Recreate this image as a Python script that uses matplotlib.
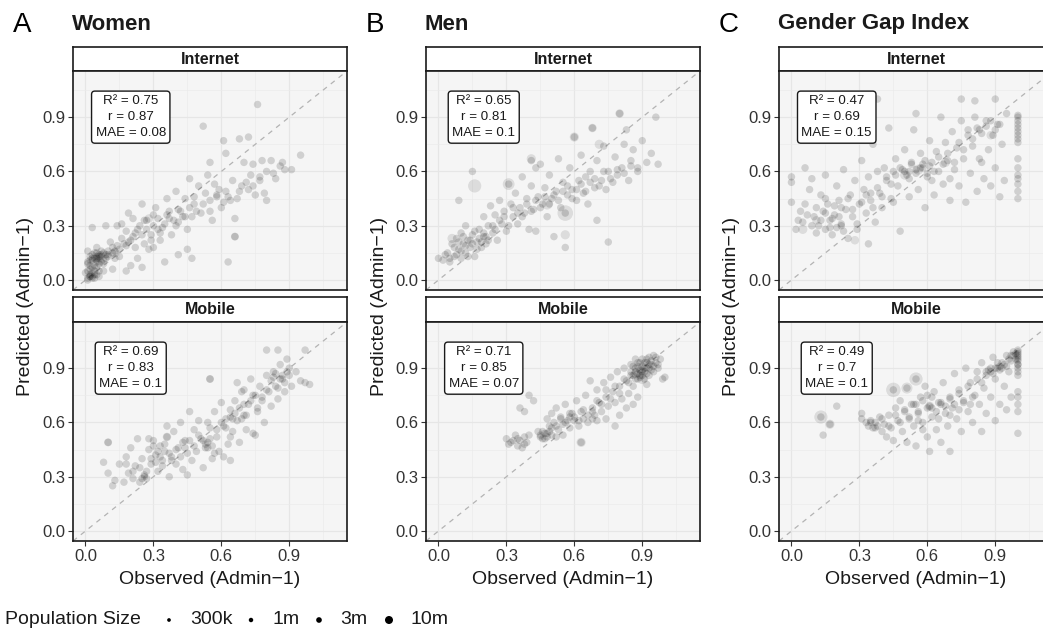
import matplotlib
matplotlib.use("Agg")
import matplotlib.pyplot as plt
import numpy as np

plt.rcParams['font.family'] = ['Liberation Sans', 'DejaVu Sans']

# ---- data ----
col_titles = ["Women", "Men", "Gender Gap Index"]
col_letters = ["A", "B", "C"]
row_titles = ["Internet", "Mobile"]
ticks = [0.0, 0.3, 0.6, 0.9]

stats_text = [
    ["R\u00b2 = 0.75\nr = 0.87\nMAE = 0.08", "R\u00b2 = 0.69\nr = 0.83\nMAE = 0.1"],
    ["R\u00b2 = 0.65\nr = 0.81\nMAE = 0.1", "R\u00b2 = 0.71\nr = 0.85\nMAE = 0.07"],
    ["R\u00b2 = 0.47\nr = 0.69\nMAE = 0.15", "R\u00b2 = 0.49\nr = 0.7\nMAE = 0.1"],
]

# women / internet
wi_x = [0.01,0.02,0.03,0.02,0.04,0.05,0.01,0.03,0.05,0.06,0.02,0.04,0.07,0.08,0.01,0.06,0.03,0.09,0.10,0.12,0.06,0.08,0.00,0.05,0.11,0.14,0.13,
        0.03,0.09,0.14,0.16,0.18,0.19,0.21,0.22,0.24,0.25,0.26,0.27,0.29,0.30,0.31,0.32,0.33,0.35,0.36,0.37,0.38,0.40,0.41,0.42,0.44,0.45,
        0.46,0.47,0.48,0.50,0.51,0.53,0.54,0.55,0.56,0.58,0.60,0.62,0.64,0.65,0.66,0.67,0.69,0.70,0.72,0.73,0.75,0.77,0.78,0.79,0.80,0.82,
        0.84,0.86,0.88,0.91,0.76,0.52,0.95,0.61,0.68,0.72,0.63,0.47,0.45,0.66,0.41,0.28,0.20,0.23,0.18,0.12,0.35,0.55,0.62,0.74,0.80,0.25,0.30]
wi_y = [0.01,0.03,0.02,0.06,0.05,0.03,0.09,0.11,0.12,0.14,0.13,0.15,0.13,0.15,0.16,0.09,0.07,0.12,0.16,0.15,0.02,0.05,0.04,0.18,0.21,0.19,0.12,
        0.29,0.30,0.30,0.23,0.27,0.37,0.34,0.26,0.30,0.42,0.20,0.33,0.25,0.36,0.40,0.28,0.22,0.31,0.45,0.34,0.25,0.49,0.32,0.38,0.45,0.28,
        0.56,0.35,0.42,0.52,0.37,0.48,0.58,0.38,0.33,0.46,0.40,0.49,0.44,0.55,0.34,0.45,0.52,0.65,0.50,0.58,0.47,0.55,0.66,0.48,0.60,0.66,
        0.56,0.63,0.61,0.61,0.97,0.85,0.69,0.77,0.78,0.79,0.10,0.12,0.17,0.24,0.14,0.17,0.08,0.12,0.05,0.06,0.10,0.65,0.70,0.64,0.44,0.07,0.18]
wi_x2 = [0.01,0.02,0.03,0.04,0.05,0.06,0.07,0.02,0.03,0.04,0.05,0.06,0.08,0.09,0.01,0.03,0.05,0.07,
         0.10,0.12,0.15,0.17,0.20,0.22,0.25,0.27,0.30,0.32,0.34,0.36,0.39,0.41,0.43,0.46,0.49,0.52,0.55,0.58,0.61,0.63,0.68,0.71,0.74,0.77,0.83,0.87,
         0.16,0.19,0.23,0.26,0.29,0.33,0.37,0.40,0.44,0.48,0.57,0.59,
         0.02,0.04,0.06,0.03,0.05,0.07,0.01,0.04,0.02,0.05,0.08,0.10,0.13,0.15,0.18,0.21]
wi_y2 = [0.00,0.02,0.04,0.08,0.10,0.12,0.10,0.11,0.14,0.12,0.15,0.13,0.11,0.14,0.05,0.01,0.07,0.16,
         0.13,0.18,0.17,0.20,0.22,0.18,0.25,0.28,0.30,0.34,0.29,0.36,0.33,0.39,0.35,0.40,0.38,0.42,0.44,0.47,0.43,0.46,0.49,0.54,0.52,0.57,0.59,0.65,
         0.31,0.21,0.28,0.33,0.22,0.26,0.38,0.30,0.35,0.46,0.53,0.50,
         0.02,0.03,0.05,0.12,0.11,0.14,0.10,0.01,0.08,0.13,0.09,0.14,0.16,0.13,0.19,0.24]
wi_bx = [0.13, 0.28, 0.66]
wi_by = [0.15, 0.34, 0.24]
wi_bpop = [15, 12, 10]

# women / mobile
wm_x = [0.08,0.10,0.10,0.12,0.13,0.15,0.17,0.18,0.19,0.20,0.21,0.22,0.23,0.24,0.25,0.26,0.27,0.28,0.29,0.30,0.31,0.32,0.33,0.34,0.35,
        0.36,0.37,0.38,0.39,0.40,0.41,0.42,0.43,0.44,0.45,0.46,0.47,0.48,0.49,0.50,0.51,0.52,0.53,0.54,0.55,0.55,0.56,0.57,0.58,0.59,
        0.60,0.61,0.62,0.63,0.64,0.65,0.66,0.67,0.68,0.69,0.70,0.71,0.72,0.73,0.74,0.75,0.76,0.77,0.78,0.79,0.80,0.81,0.82,0.83,0.84,
        0.85,0.86,0.87,0.88,0.89,0.90,0.91,0.93,0.95,0.97,0.99,0.80,0.85,0.97,0.67,0.70,0.64,0.61,0.54,0.45,0.36,0.28]
wm_y = [0.38,0.49,0.32,0.25,0.28,0.37,0.27,0.41,0.32,0.46,0.29,0.36,0.51,0.27,0.40,0.31,0.29,0.45,0.37,0.50,0.42,0.33,0.47,0.39,0.44,
        0.52,0.30,0.41,0.55,0.37,0.46,0.60,0.34,0.50,0.43,0.66,0.39,0.56,0.44,0.61,0.51,0.35,0.48,0.46,0.84,0.57,0.40,0.66,0.52,0.44,
        0.71,0.58,0.62,0.48,0.67,0.55,0.72,0.61,0.49,0.77,0.64,0.56,0.70,0.84,0.75,0.53,0.66,0.80,0.72,0.60,0.86,0.77,0.69,0.88,0.80,
        0.73,0.92,0.84,0.77,0.95,0.86,0.80,0.88,0.83,0.82,0.81,1.00,1.00,1.00,0.82,0.78,0.39,0.41,0.60,0.31,0.58,0.51]
wm_x2 = [0.18,0.21,0.24,0.26,0.27,0.29,0.31,0.32,0.33,0.34,0.35,0.37,0.38,0.40,0.42,0.44,0.46,0.48,0.50,0.52,
         0.53,0.54,0.55,0.56,0.58,0.60,0.62,0.64,0.65,0.66,0.68,0.69,0.70,0.71,0.73,0.75,0.76,0.78,0.80,0.82,
         0.83,0.84,0.85,0.86,0.87,0.88,0.89,0.90,0.74,0.64,0.57,0.43,0.30,0.25]
wm_y2 = [0.37,0.33,0.35,0.30,0.33,0.40,0.38,0.44,0.41,0.36,0.48,0.43,0.39,0.45,0.41,0.46,0.50,0.47,0.53,0.50,
         0.46,0.49,0.51,0.47,0.56,0.60,0.57,0.63,0.62,0.65,0.68,0.62,0.70,0.64,0.72,0.75,0.68,0.74,0.78,0.83,
         0.85,0.87,0.79,0.84,0.86,0.82,0.88,0.90,0.54,0.52,0.43,0.49,0.47,0.29]
wm_bx = [0.10, 0.55, 0.36]
wm_by = [0.49, 0.84, 0.52]
wm_bpop = [10, 10, 12]

# men / internet
mi_x = [0.00,0.02,0.04,0.05,0.06,0.07,0.08,0.09,0.10,0.10,0.11,0.12,0.12,0.13,0.14,0.15,0.16,0.17,0.18,0.19,0.20,0.20,0.21,0.22,0.23,
        0.24,0.25,0.26,0.27,0.28,0.29,0.30,0.31,0.32,0.33,0.34,0.35,0.36,0.37,0.38,0.39,0.40,0.41,0.42,0.43,0.44,0.45,0.46,0.47,0.48,
        0.49,0.50,0.51,0.52,0.53,0.54,0.55,0.56,0.57,0.58,0.59,0.60,0.61,0.62,0.63,0.64,0.65,0.66,0.67,0.68,0.69,0.70,0.70,0.72,0.73,
        0.74,0.75,0.75,0.77,0.78,0.79,0.80,0.81,0.82,0.83,0.84,0.85,0.86,0.88,0.90,0.92,0.94,0.96,0.97,0.56,0.15,0.09,0.41,0.43]
mi_y = [0.12,0.11,0.15,0.10,0.20,0.13,0.23,0.17,0.12,0.26,0.20,0.15,0.30,0.22,0.18,0.25,0.13,0.21,0.28,0.18,0.24,0.35,0.20,0.30,0.41,
        0.26,0.36,0.22,0.44,0.31,0.38,0.27,0.53,0.42,0.35,0.48,0.31,0.40,0.57,0.37,0.45,0.28,0.52,0.39,0.27,0.46,0.64,0.42,0.51,0.35,
        0.58,0.45,0.24,0.49,0.67,0.40,0.54,0.37,0.47,0.62,0.50,0.79,0.44,0.55,0.69,0.48,0.57,0.42,0.60,0.84,0.51,0.33,0.66,0.55,0.74,
        0.50,0.21,0.60,0.54,0.68,0.58,0.92,0.62,0.75,0.83,0.55,0.66,0.72,0.62,0.77,0.65,0.70,0.90,0.64,0.18,0.60,0.44,0.66,0.62]
mi_x2 = [0.03,0.05,0.07,0.08,0.09,0.10,0.11,0.12,0.13,0.14,0.15,0.16,0.17,0.18,0.19,0.20,0.21,0.22,
         0.24,0.25,0.27,0.29,0.31,0.33,0.35,0.37,0.39,0.41,0.43,0.45,0.47,0.49,0.51,0.53,0.55,0.57,0.59,0.61,
         0.63,0.65,0.67,0.69,0.71,0.73,0.76,0.79,0.82,0.85,0.88]
mi_y2 = [0.14,0.12,0.18,0.14,0.21,0.16,0.24,0.19,0.13,0.22,0.20,0.27,0.17,0.23,0.21,0.26,0.24,0.22,
         0.30,0.28,0.33,0.35,0.30,0.40,0.37,0.35,0.42,0.38,0.44,0.40,0.46,0.42,0.47,0.44,0.49,0.52,0.45,0.50,
         0.53,0.49,0.54,0.56,0.52,0.60,0.56,0.61,0.59,0.63,0.60]
mi_bx = [0.16, 0.31, 0.56, 0.41, 0.56, 0.71, 0.06, 0.80, 0.68, 0.60, 0.48]
mi_by = [0.52, 0.53, 0.37, 0.67, 0.25, 0.75, 0.23, 0.92, 0.84, 0.79, 0.42]
mi_bpop = [40, 30, 60, 15, 15, 15, 15, 12, 12, 15, 25]

# men / mobile
mm_x = [0.30,0.31,0.33,0.34,0.35,0.36,0.37,0.38,0.39,0.40,0.36,0.40,0.42,0.38,0.45,0.46,0.47,0.48,0.48,0.49,0.50,0.50,0.51,0.52,0.53,
        0.54,0.55,0.56,0.57,0.58,0.59,0.60,0.61,0.62,0.63,0.63,0.64,0.65,0.66,0.67,0.68,0.69,0.70,0.71,0.72,0.73,0.74,0.75,0.76,0.77,
        0.78,0.78,0.79,0.80,0.81,0.82,0.83,0.84,0.85,0.85,0.86,0.87,0.87,0.88,0.88,0.89,0.89,0.90,0.90,0.91,0.91,0.92,0.92,0.93,0.93,
        0.94,0.95,0.95,0.96,0.97,0.98,0.99,1.00,0.86,0.83,0.80,0.74,0.70,0.88,0.92,0.58,0.55,0.52,0.44,0.68]
mm_y = [0.51,0.48,0.50,0.53,0.47,0.50,0.46,0.52,0.49,0.53,0.68,0.75,0.72,0.66,0.52,0.55,0.51,0.54,0.62,0.58,0.65,0.53,0.60,0.68,0.56,
        0.63,0.59,0.70,0.61,0.57,0.65,0.61,0.72,0.58,0.49,0.66,0.62,0.75,0.60,0.83,0.68,0.64,0.78,0.71,0.66,0.82,0.74,0.69,0.85,0.77,
        0.58,0.71,0.88,0.80,0.73,0.90,0.83,0.76,0.92,0.86,0.80,0.95,0.88,0.84,0.91,0.86,0.93,0.88,0.95,0.90,0.84,0.93,0.87,0.96,0.90,
        0.92,0.88,0.97,0.93,0.90,0.95,0.84,0.85,0.70,0.68,0.64,0.62,0.61,0.74,0.81,0.63,0.53,0.52,0.55,0.62]
mm_x2 = [0.32,0.35,0.38,0.45,0.46,0.47,0.48,0.49,0.50,0.52,0.54,0.56,0.58,0.60,0.62,0.64,0.66,0.68,0.70,0.72,
         0.74,0.76,0.78,0.80,0.82,0.84,0.85,0.86,0.86,0.87,0.88,0.88,0.89,0.89,0.90,0.90,0.91,0.91,0.92,0.92,
         0.93,0.94,0.94,0.95,0.96,0.97,0.87,0.90,0.93]
mm_y2 = [0.49,0.51,0.48,0.53,0.51,0.54,0.52,0.55,0.57,0.58,0.62,0.60,0.65,0.63,0.61,0.67,0.64,0.66,0.72,0.70,
         0.78,0.73,0.80,0.76,0.84,0.82,0.88,0.86,0.91,0.90,0.87,0.93,0.89,0.85,0.91,0.86,0.93,0.88,0.90,0.95,
         0.92,0.89,0.94,0.91,0.96,0.92,0.84,0.89,0.86]
mm_bx = [0.63, 0.87, 0.90]
mm_by = [0.49, 0.87, 0.84]
mm_bpop = [15, 15, 20]

# gender gap index / internet
gi_x = [0.00,0.00,0.00,0.02,0.03,0.04,0.05,0.06,0.06,0.08,0.09,0.10,0.11,0.12,0.13,0.14,0.15,0.15,0.16,0.17,0.18,0.19,0.20,0.20,0.21,
        0.22,0.23,0.24,0.25,0.26,0.27,0.28,0.29,0.30,0.31,0.32,0.33,0.34,0.34,0.35,0.36,0.37,0.38,0.39,0.40,0.41,0.42,0.43,0.44,0.45,
        0.46,0.47,0.48,0.49,0.50,0.51,0.52,0.53,0.54,0.55,0.56,0.57,0.58,0.59,0.60,0.61,0.62,0.63,0.64,0.65,0.66,0.67,0.68,0.69,0.70,
        0.71,0.72,0.73,0.74,0.75,0.76,0.77,0.78,0.79,0.80,0.81,0.82,0.83,0.84,0.85,0.86,0.87,0.88,0.89,0.90,0.91,0.92,0.93,0.94,0.95,
        1.00,1.00,1.00,1.00,1.00,1.00,1.00,1.00,1.00,1.00,1.00,1.00,1.00,1.00,1.00,1.00,0.38,0.75,0.81,0.90,0.55,0.52,0.58,0.60,0.18,0.22]
gi_y = [0.43,0.54,0.57,0.28,0.33,0.38,0.32,0.42,0.62,0.50,0.56,0.35,0.26,0.30,0.47,0.38,0.28,0.58,0.42,0.33,0.25,0.36,0.29,0.52,0.44,
        0.31,0.61,0.39,0.23,0.47,0.35,0.55,0.28,0.42,0.66,0.50,0.37,0.20,0.57,0.44,0.75,0.32,0.60,0.48,0.40,0.62,0.55,0.84,0.45,0.60,
        0.67,0.52,0.27,0.61,0.72,0.58,0.46,0.65,0.83,0.61,0.50,0.70,0.64,0.40,0.57,0.77,0.65,0.47,0.71,0.60,0.90,0.53,0.76,0.66,0.44,
        0.82,0.61,0.73,0.52,0.88,0.67,0.43,0.80,0.59,0.74,0.90,0.49,0.83,0.65,0.56,0.88,0.72,0.52,0.80,0.62,0.86,0.46,0.75,0.55,0.92,
        0.45,0.49,0.53,0.56,0.58,0.62,0.67,0.76,0.78,0.80,0.82,0.84,0.86,0.88,0.90,0.91,1.00,1.00,0.99,1.00,0.92,0.60,0.62,0.59,0.34,0.30]
gi_x2 = [0.07,0.09,0.11,0.13,0.15,0.17,0.19,0.21,0.23,0.25,0.27,0.29,0.31,0.33,0.36,0.38,0.40,0.42,0.44,0.46,
         0.48,0.50,0.52,0.53,0.55,0.57,0.59,0.61,0.63,0.65,0.67,0.69,0.72,0.74,0.76,0.78,0.80,0.82,0.84,0.86,
         0.88,0.90,0.92,0.45,0.35,0.62,0.70,0.83,0.15,0.22]
gi_y2 = [0.36,0.30,0.40,0.33,0.37,0.29,0.41,0.35,0.27,0.45,0.39,0.31,0.43,0.47,0.40,0.51,0.46,0.57,0.53,0.58,
         0.62,0.60,0.56,0.64,0.59,0.62,0.66,0.63,0.60,0.68,0.64,0.70,0.65,0.76,0.72,0.83,0.78,0.84,0.81,0.85,
         0.88,0.83,0.86,0.43,0.48,0.55,0.56,0.67,0.45,0.40]
gi_bx = [0.05, 0.11, 0.56, 0.50, 0.68, 0.28, 0.88]
gi_by = [0.28, 0.33, 0.61, 0.58, 0.65, 0.22, 0.80]
gi_bpop = [15, 12, 20, 15, 15, 12, 12]

# gender gap index / mobile
gm_x = [0.13,0.17,0.14,0.20,0.31,0.31,0.33,0.34,0.35,0.36,0.37,0.38,0.39,0.40,0.41,0.42,0.43,0.44,0.45,0.45,0.46,0.47,0.48,0.49,0.50,
        0.51,0.51,0.52,0.53,0.54,0.55,0.55,0.56,0.57,0.58,0.59,0.60,0.61,0.61,0.62,0.63,0.64,0.65,0.66,0.67,0.68,0.69,0.70,0.70,0.71,
        0.72,0.73,0.74,0.75,0.76,0.77,0.78,0.79,0.80,0.81,0.82,0.83,0.84,0.84,0.85,0.86,0.87,0.88,0.89,0.90,0.90,0.91,0.92,0.93,0.94,
        0.95,0.95,0.96,0.97,0.98,1.00,1.00,1.00,1.00,1.00,1.00,1.00,1.00,1.00,1.00,1.00,1.00,0.99,0.97,0.88,0.92,0.86,0.79,0.74,0.66,
        0.62,0.56,0.58]
gm_y = [0.63,0.59,0.53,0.69,0.65,0.62,0.60,0.58,0.61,0.57,0.60,0.58,0.63,0.55,0.59,0.52,0.64,0.57,0.78,0.50,0.68,0.61,0.72,0.55,0.66,
        0.79,0.49,0.62,0.70,0.58,0.84,0.47,0.66,0.74,0.60,0.80,0.52,0.69,0.44,0.63,0.77,0.56,0.71,0.49,0.82,0.65,0.58,0.44,0.74,0.68,
        0.87,0.62,0.78,0.55,0.71,0.90,0.66,0.82,0.60,0.75,0.88,0.70,0.55,0.93,0.79,0.65,0.89,0.74,0.96,0.84,0.61,0.90,0.70,0.93,0.80,
        0.97,0.67,0.88,0.74,0.99,0.54,0.66,0.70,0.74,0.77,0.86,0.90,0.92,0.94,0.96,0.98,1.00,0.95,0.97,0.90,0.91,0.88,0.70,0.67,0.70,
        0.68,0.61,0.56]
gm_x2 = [0.35,0.37,0.40,0.43,0.46,0.48,0.50,0.52,0.54,0.56,0.58,0.60,0.62,0.64,0.66,0.68,0.70,0.72,0.74,0.76,
         0.78,0.80,0.82,0.84,0.86,0.88,0.90,0.92,0.94,0.96,0.98,1.00,1.00,1.00,1.00,1.00,
         0.99,0.97,0.95,0.93,0.91,0.89,0.70,0.65,0.60,0.55]
gm_y2 = [0.60,0.57,0.62,0.58,0.64,0.60,0.67,0.63,0.70,0.65,0.72,0.68,0.74,0.66,0.71,0.69,0.73,0.70,0.76,0.72,
         0.80,0.74,0.84,0.82,0.86,0.88,0.90,0.89,0.92,0.95,0.97,0.99,0.97,0.95,0.92,0.88,
         0.98,0.94,0.91,0.90,0.93,0.87,0.64,0.62,0.75,0.70]
gm_bx = [0.13, 0.17, 0.45, 0.55, 0.51, 0.61]
gm_by = [0.63, 0.59, 0.78, 0.84, 0.79, 0.69]
gm_bpop = [40, 15, 50, 40, 25, 15]

legend_pops = [0.3, 1, 3, 10]
legend_labels = ["300k", "1m", "3m", "10m"]
default_pop = 8

panels = [
    [(wi_x + wi_x2, wi_y + wi_y2, wi_bx, wi_by, wi_bpop),
     (wm_x + wm_x2, wm_y + wm_y2, wm_bx, wm_by, wm_bpop)],
    [(mi_x + mi_x2, mi_y + mi_y2, mi_bx, mi_by, mi_bpop),
     (mm_x + mm_x2, mm_y + mm_y2, mm_bx, mm_by, mm_bpop)],
    [(gi_x + gi_x2, gi_y + gi_y2, gi_bx, gi_by, gi_bpop),
     (gm_x + gm_x2, gm_y + gm_y2, gm_bx, gm_by, gm_bpop)],
]

# ---- layout (pixels) ----
W, H = 1043, 631
fig = plt.figure(figsize=(W / 100, H / 100), dpi=100)


def frac(l, t, r, b):
    return [l / W, 1 - b / H, (r - l) / W, (b - t) / H]


def size_of(pop):
    d = 2.8 + 5.2 * np.sqrt(np.asarray(pop, dtype=float) / 10.0)  # diameter in px
    return (d * 0.72) ** 2


col_left = [73, 426, 779]
pw = 274
rows = [(47, 71, 290), (297, 322, 541)]
tick_col = '#333333'

for c in range(3):
    L = col_left[c]
    for r in range(2):
        st, pt, pb = rows[r]
        # strip
        sax = fig.add_axes(frac(L, st, L + pw, pt))
        sax.set_xticks([]); sax.set_yticks([])
        sax.set_facecolor('white')
        for s in sax.spines.values():
            s.set_linewidth(1.2); s.set_color('#1a1a1a')
        sax.text(0.5, 0.5, row_titles[r], ha='center', va='center', fontsize=11.5,
                 fontweight='bold', color='#1a1a1a', transform=sax.transAxes)

        ax = fig.add_axes(frac(L, pt, L + pw, pb))
        ax.set_facecolor('#f5f5f5')
        ax.set_xlim(-0.055, 1.155)
        ax.set_ylim(-0.055, 1.155)
        ax.set_xticks(ticks)
        ax.set_yticks(ticks)
        ax.set_xticks([0.15, 0.45, 0.75, 1.05], minor=True)
        ax.set_yticks([0.15, 0.45, 0.75, 1.05], minor=True)
        ax.grid(which='major', color='#e6e6e6', lw=0.9)
        ax.grid(which='minor', color='#ebebeb', lw=0.5)
        ax.set_axisbelow(True)
        ax.tick_params(which='minor', length=0)
        ax.tick_params(which='major', length=3.5, color=tick_col, labelsize=12,
                       labelcolor=tick_col, width=0.8, pad=2)
        ax.set_yticklabels([f"{t:.1f}" for t in ticks])
        if r == 0:
            ax.tick_params(axis='x', length=0, labelbottom=False)
        else:
            ax.set_xticklabels([f"{t:.1f}" for t in ticks])
        for s in ax.spines.values():
            s.set_linewidth(1.2); s.set_color('#1a1a1a')

        ax.axline((0, 0), slope=1, color='#b3b3b3', lw=0.9, ls=(0, (4, 4)), zorder=1)

        x, y, bx, by, bpop = panels[c][r]
        ax.scatter(x, y, s=size_of([default_pop] * len(x)), color='black',
                   alpha=0.15, edgecolors='none', zorder=2)
        ax.scatter(bx, by, s=size_of(bpop), color='black', alpha=0.10,
                   edgecolors='none', zorder=2)

        ax.text(0.2, 0.9, stats_text[c][r], ha='center', va='center', fontsize=9.6,
                linespacing=1.45, color='#1a1a1a', zorder=5,
                bbox=dict(boxstyle='round,pad=0.3,rounding_size=0.25', fc='white',
                          ec='#1a1a1a', lw=1.0))

    # column annotations
    fig.text((L - 60) / W, 1 - 25 / H, col_letters[c], fontsize=20, ha='left', va='center')
    fig.text((L - 1) / W, 1 - 24 / H, col_titles[c], fontsize=16, fontweight='bold',
             ha='left', va='center', color='#1a1a1a')
    fig.text((L - 47) / W, 1 - 306 / H, "Predicted (Admin\u22121)", rotation=90,
             fontsize=14, ha='center', va='center', color='#1a1a1a')
    fig.text((L + pw / 2) / W, 1 - 579 / H, "Observed (Admin\u22121)", fontsize=14,
             ha='center', va='center', color='#1a1a1a')

# legend
lax = fig.add_axes([0, 0, 1, 1])
lax.set_xlim(0, W)
lax.set_ylim(H, 0)
lax.axis('off')
lax.text(5, 620, "Population Size", fontsize=14, ha='left', va='center', color='#1a1a1a')
key_x = [169, 251, 319, 389]
lax.scatter(key_x, [620] * 4, s=size_of(legend_pops), color='black', edgecolors='none')
for kx, lab in zip(key_x, legend_labels):
    lax.text(kx + 21, 620, lab, fontsize=14, ha='left', va='center', color='#1a1a1a')

fig.savefig("out.png", dpi=100)
